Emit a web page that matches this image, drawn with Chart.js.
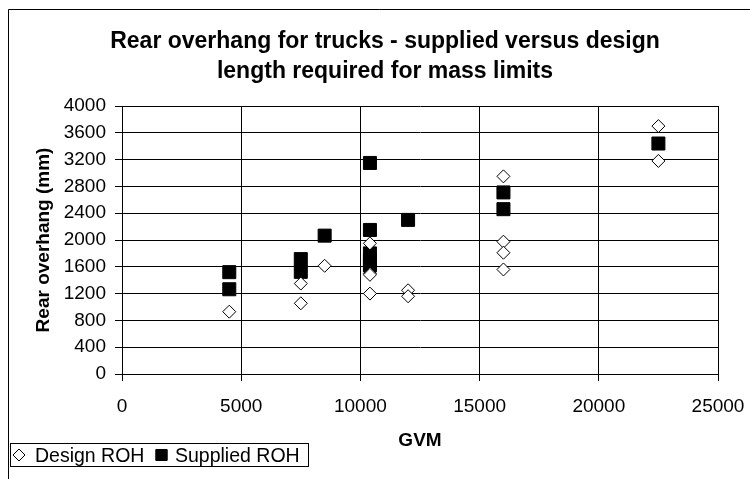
<!DOCTYPE html>
<html>
<head>
<meta charset="utf-8">
<script src="https://cdn.jsdelivr.net/npm/chart.js@4"></script>
<style>
  body { margin: 0; background: #fff; }
</style>
</head>
<body>
<canvas id="chart" width="750" height="479"></canvas>
<script>
// values (GVM in kg, rear overhang in mm)
const designGvm = [4500, 7500, 7500, 8500, 10400, 10400, 10400, 10400, 12000, 12000, 16000, 16000, 16000, 16000, 22500, 22500];
const designRoh = [930, 1350, 1055, 1615, 1950, 1500, 1480, 1200, 1250, 1160, 2950, 1975, 1810, 1560, 3700, 3180];
const suppliedGvm = [4500, 4500, 7500, 7500, 8500, 10400, 10400, 10400, 10400, 10400, 12000, 16000, 16000, 22500];
const suppliedRoh = [1520, 1265, 1715, 1525, 2065, 3150, 2150, 1800, 1700, 1620, 2300, 2710, 2460, 3440];
const xTicks = [0, 5000, 10000, 15000, 20000, 25000];
const yTicks = [0, 400, 800, 1200, 1600, 2000, 2400, 2800, 3200, 3600, 4000];

const titleLines = ["Rear overhang for trucks - supplied versus design", "length required for mass limits"];
const FONT = "'Liberation Sans', Arial, sans-serif";

function toPoints(xs, ys) {
  return xs.map((x, i) => ({ x: x, y: ys[i] }));
}

// frame, titles and the boxed legend, drawn by hand like the Excel original
const decorations = {
  id: "decorations",
  afterDraw(chart) {
    const ctx = chart.ctx;
    const area = chart.chartArea;
    ctx.save();
    ctx.strokeStyle = "#000";
    ctx.lineWidth = 1;
    ctx.beginPath();
    ctx.moveTo(8.5, 479);
    ctx.lineTo(8.5, 9.5);
    ctx.lineTo(750, 9.5);
    ctx.stroke();

    ctx.fillStyle = "#000";
    ctx.textAlign = "center";
    ctx.textBaseline = "alphabetic";
    ctx.font = "bold 23px " + FONT;
    titleLines.forEach((t, i) => ctx.fillText(t, 385, 48 + i * 30));

    ctx.font = "bold 19px " + FONT;
    ctx.fillText("GVM", (area.left + area.right) / 2, 446);
    ctx.save();
    ctx.translate(49, (area.top + area.bottom) / 2);
    ctx.rotate(-Math.PI / 2);
    ctx.fillText("Rear overhang (mm)", 0, 0);
    ctx.restore();

    // legend
    ctx.strokeRect(10.5, 443.5, 298, 23);
    ctx.font = "19.5px " + FONT;
    ctx.textAlign = "left";
    const ds = chart.data.datasets;
    const items = [{ x: 19, tx: 35, r: 6 }, { x: 161.5, tx: 175, r: 7.8 }];
    items.forEach((it, i) => {
      const d = ds[i];
      Chart.helpers.drawPoint(ctx, {
        pointStyle: d.pointStyle,
        radius: it.r,
        borderWidth: 1
      }, it.x, 455);
      ctx.fillStyle = d.backgroundColor;
      ctx.strokeStyle = "#000";
      ctx.fill();
      ctx.stroke();
      ctx.fillStyle = "#000";
      ctx.fillText(d.label, it.tx, 462);
    });
    ctx.restore();
  }
};

new Chart(document.getElementById("chart"), {
  type: "scatter",
  data: {
    datasets: [
      {
        label: "Design ROH",
        data: toPoints(designGvm, designRoh),
        pointStyle: "rectRot",
        pointRadius: 6.5,
        backgroundColor: "#fff",
        borderColor: "#000",
        borderWidth: 1
      },
      {
        label: "Supplied ROH",
        data: toPoints(suppliedGvm, suppliedRoh),
        pointStyle: "rect",
        pointRadius: 9.2,
        backgroundColor: "#000",
        borderColor: "#000",
        borderWidth: 1
      }
    ]
  },
  options: {
    responsive: false,
    animation: false,
    layout: { autoPadding: false, padding: { left: 8, top: 106, right: 32, bottom: 65 } },
    plugins: {
      legend: { display: false },
      tooltip: { enabled: false },
      title: { display: false }
    },
    scales: {
      x: {
        type: "linear",
        min: 0,
        max: 25000,
        afterFit: s => { s.height = 40; s.paddingLeft = 0; s.paddingRight = 0; },
        afterBuildTicks: s => { s.ticks = xTicks.map(v => ({ value: v })); },
        grid: { color: "#000", lineWidth: 1, tickLength: 7, drawTicks: true },
        border: { color: "#000", width: 1 },
        ticks: {
          color: "#000",
          font: { family: FONT, size: 19 },
          padding: 14,
          maxRotation: 0,
          callback: v => String(v)
        }
      },
      y: {
        type: "linear",
        min: 0,
        max: 4000,
        afterFit: s => { s.width = 114; },
        afterBuildTicks: s => { s.ticks = yTicks.map(v => ({ value: v })); },
        grid: { color: "#000", lineWidth: 1, tickLength: 7, drawTicks: true },
        border: { color: "#000", width: 1 },
        ticks: {
          color: "#000",
          font: { family: FONT, size: 19 },
          padding: 9,
          callback: v => String(v)
        }
      }
    }
  },
  plugins: [decorations]
});
</script>
</body>
</html>
